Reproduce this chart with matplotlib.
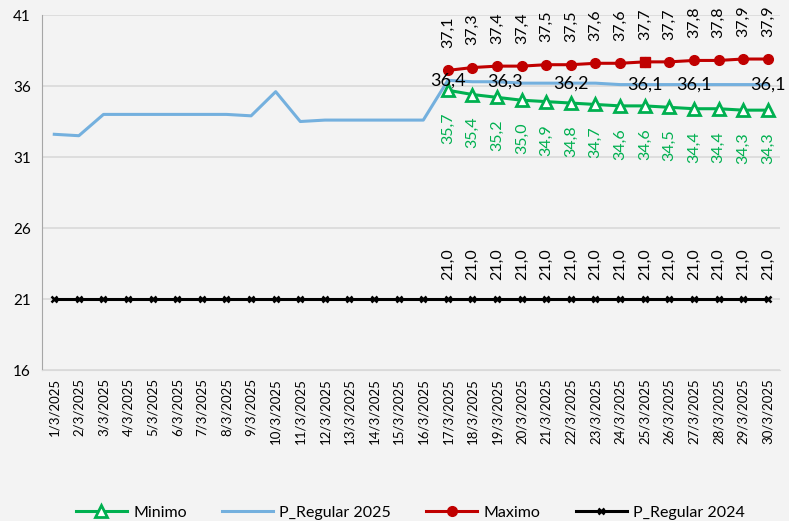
from matplotlib import pyplot as plt
import numpy as np

plt.rcParams['font.family'] = ['Lato', 'DejaVu Sans']

# data
dias = ['%d/3/2025' % d for d in range(1, 31)]
p_2025 = [32.6, 32.5, 34.0, 34.0, 34.0, 34.0, 34.0, 34.0, 33.9, 35.6,
          33.5, 33.6, 33.6, 33.6, 33.6, 33.6, 36.4, 36.3, 36.3, 36.2,
          36.2, 36.2, 36.2, 36.1, 36.1, 36.1, 36.1, 36.1, 36.1, 36.1]
p_2024 = [21.0] * 30
maximo = [37.1, 37.3, 37.4, 37.4, 37.5, 37.5, 37.6, 37.6, 37.7, 37.7, 37.8, 37.8, 37.9, 37.9]
minimo = [35.7, 35.4, 35.2, 35.0, 34.9, 34.8, 34.7, 34.6, 34.6, 34.5, 34.4, 34.4, 34.3, 34.3]
proy_idx = list(range(16, 30))  # 17/3 .. 30/3
p2025_lbl_idx = [16, 18, 21, 24, 26, 29]

def fmt(v):
    return ('%.1f' % v).replace('.', ',')

green = '#00B050'
red = '#C00000'
blue = '#74B0DE'

fig = plt.figure(figsize=(7.89, 5.21), dpi=100)
fig.patch.set_facecolor('#F3F3F3')
ax = fig.add_axes([0.0532, 0.2898, 0.9354, 0.6814])
ax.set_facecolor('#F3F3F3')

x = np.arange(30)
xp = np.array(proy_idx)

l1, = ax.plot(xp, minimo, color=green, lw=2.2, marker='^', ms=9, mfc='white', mec=green, mew=2, label='Minimo', zorder=4)
l2, = ax.plot(x, p_2025, color=blue, lw=2.2, label='P_Regular 2025', zorder=3)
l3, = ax.plot(xp, maximo, color=red, lw=2.2, marker='o', ms=7, label='Maximo', zorder=4)
# odd square marker at 25/3
ax.plot(xp[8], maximo[8], 's', color=red, ms=7, zorder=5)
l4, = ax.plot(x, p_2024, color='black', lw=2.2, marker='x', ms=4, mew=1.8, label='P_Regular 2024', zorder=4)

for i, v in zip(xp, maximo):
    ax.annotate(fmt(v), (i, v), xytext=(0, 16), textcoords='offset points', rotation=90,
                ha='center', va='bottom', fontsize=11.5, color='black')
for i, v in zip(xp, minimo):
    ax.annotate(fmt(v), (i, v), xytext=(0, -16), textcoords='offset points', rotation=90,
                ha='center', va='top', fontsize=11.5, color=green)
for i in xp:
    ax.annotate(fmt(p_2024[i]), (i, p_2024[i]), xytext=(0, 14), textcoords='offset points', rotation=90,
                ha='center', va='bottom', fontsize=11.5, color='black')
for i in p2025_lbl_idx:
    dx = 6 if i == 18 else 0
    ax.annotate(fmt(p_2025[i]), (i, p_2025[i]), xytext=(dx, 0), textcoords='offset points',
                ha='center', va='center', fontsize=13, color='black', zorder=6)

ax.set_xlim(-0.5, 29.5)
ax.set_ylim(16, 41)
ax.set_yticks([16, 21, 26, 31, 36, 41])
ax.set_xticks(x)
ax.set_xticklabels(dias, rotation=90, fontsize=9.5)
ax.tick_params(axis='y', labelsize=11, length=0, pad=8)
ax.tick_params(axis='x', length=0, pad=6)
ax.grid(axis='y', color='#D9D9D9', lw=1.2)
ax.set_axisbelow(True)
for s in ['top', 'right']:
    ax.spines[s].set_visible(False)
ax.spines['left'].set_color('#A6A6A6')
ax.spines['bottom'].set_color('#D9D9D9')

fig.legend(handles=[l1, l2, l3, l4], loc='lower center', bbox_to_anchor=(0.52, -0.025), ncol=4,
           frameon=False, fontsize=11.5, handlelength=3.2, columnspacing=2.2, handletextpad=0.4)

plt.savefig('out.png', dpi=100, facecolor=fig.get_facecolor())
